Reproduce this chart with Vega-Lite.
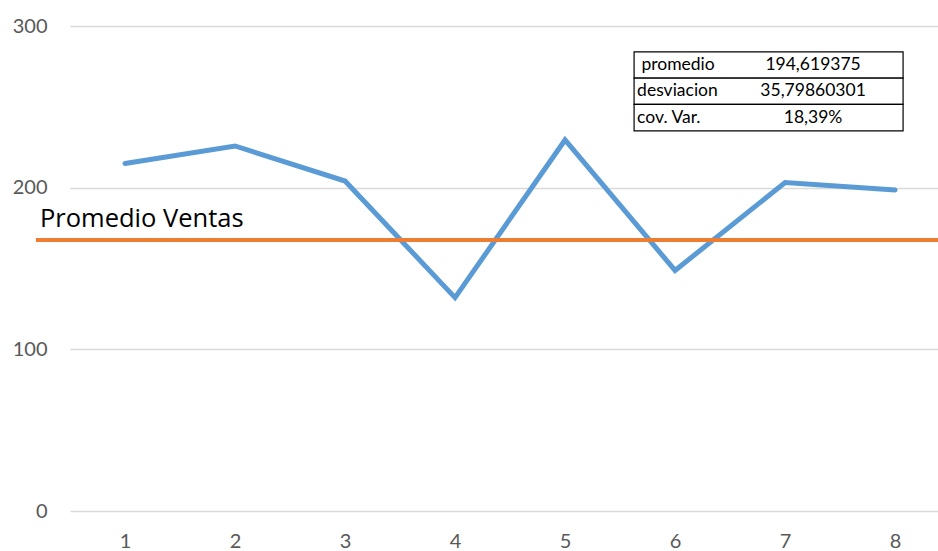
{
  "$schema": "https://vega.github.io/schema/vega-lite/v6.json",
  "width": 868,
  "height": 485,
  "autosize": {"type": "none"},
  "padding": {"left": 70, "top": 26, "right": 0, "bottom": 40},
  "background": "white",
  "config": {
    "view": {"stroke": null},
    "font": "Lato",
    "text": {"font": "Lato"}
  },
  "datasets": {
    "ventas": [
      {"periodo": 1, "ventas": 215.0},
      {"periodo": 2, "ventas": 225.8},
      {"periodo": 3, "ventas": 204.1},
      {"periodo": 4, "ventas": 132.0},
      {"periodo": 5, "ventas": 229.5},
      {"periodo": 6, "ventas": 148.8},
      {"periodo": 7, "ventas": 203.2},
      {"periodo": 8, "ventas": 198.6}
    ],
    "referencia": [
      {"nivel": 167.6, "etiqueta": "Promedio Ventas"}
    ],
    "tabla": [
      {"fila": 1, "estadistico": "promedio", "valor": "194,619375"},
      {"fila": 2, "estadistico": "desviacion", "valor": "35,79860301"},
      {"fila": 3, "estadistico": "cov. Var.", "valor": "18,39%"}
    ]
  },
  "layer": [
    {
      "layer": [
        {
          "data": {"name": "ventas"},
          "mark": {"type": "line", "color": "#5B9BD5", "strokeWidth": 5, "strokeCap": "round", "strokeJoin": "miter"},
          "encoding": {
            "x": {
              "field": "periodo",
              "type": "quantitative",
              "scale": {"domain": [0.5, 8.39], "nice": false, "zero": false},
              "axis": {
                "values": [1, 2, 3, 4, 5, 6, 7, 8],
                "format": "d",
                "title": null,
                "grid": false,
                "domain": false,
                "ticks": false,
                "labelFontSize": 20,
                "labelColor": "#595959",
                "labelPadding": 20
              }
            },
            "y": {
              "field": "ventas",
              "type": "quantitative",
              "scale": {"domain": [0, 300], "nice": false},
              "axis": {
                "values": [0, 100, 200, 300],
                "title": null,
                "grid": true,
                "gridColor": "#D9D9D9",
                "gridWidth": 1.3,
                "domain": false,
                "ticks": false,
                "labelFontSize": 20,
                "labelColor": "#595959",
                "labelPadding": 23
              }
            }
          }
        },
        {
          "data": {"name": "referencia"},
          "mark": {"type": "rule", "color": "#ED7D31", "strokeWidth": 4},
          "encoding": {
            "x": {"datum": 0.19, "type": "quantitative"},
            "x2": {"datum": 8.39},
            "y": {"field": "nivel", "type": "quantitative", "scale": {"domain": [0, 300], "nice": false}}
          }
        },
        {
          "data": {"name": "referencia"},
          "mark": {"type": "text", "align": "left", "baseline": "alphabetic", "fontSize": 25.5, "font": "Open Sans", "color": "#000000", "dy": -13},
          "encoding": {
            "x": {"datum": 0.227, "type": "quantitative"},
            "y": {"field": "nivel", "type": "quantitative", "scale": {"domain": [0, 300], "nice": false}},
            "text": {"field": "etiqueta"}
          }
        }
      ]
    },
    {
      "data": {"name": "tabla"},
      "layer": [
        {
          "mark": {"type": "rect", "fill": "white", "stroke": "#000000", "strokeWidth": 1.2, "width": 269, "height": 26.33},
          "encoding": {
            "x": {"datum": 6.85, "type": "quantitative"},
            "y": {"field": "fila", "type": "quantitative", "scale": {"domain": [-0.48, 17.94], "reverse": true, "nice": false, "zero": false}, "axis": null}
          }
        },
        {
          "transform": [{"filter": "datum.fila == 1"}],
          "mark": {"type": "text", "align": "center", "baseline": "middle", "fontSize": 17.5, "color": "#000000"},
          "encoding": {
            "x": {"datum": 6.027, "type": "quantitative"},
            "y": {"field": "fila", "type": "quantitative", "axis": null},
            "text": {"field": "estadistico"}
          }
        },
        {
          "transform": [{"filter": "datum.fila > 1"}],
          "mark": {"type": "text", "align": "left", "baseline": "middle", "fontSize": 17.5, "color": "#000000"},
          "encoding": {
            "x": {"datum": 5.655, "type": "quantitative"},
            "y": {"field": "fila", "type": "quantitative", "axis": null},
            "text": {"field": "estadistico"}
          }
        },
        {
          "mark": {"type": "text", "align": "center", "baseline": "middle", "fontSize": 17.5, "color": "#000000"},
          "encoding": {
            "x": {"datum": 7.2545, "type": "quantitative"},
            "y": {"field": "fila", "type": "quantitative", "axis": null},
            "text": {"field": "valor"}
          }
        }
      ]
    }
  ],
  "resolve": {"scale": {"y": "independent"}, "axis": {"y": "independent"}}
}
